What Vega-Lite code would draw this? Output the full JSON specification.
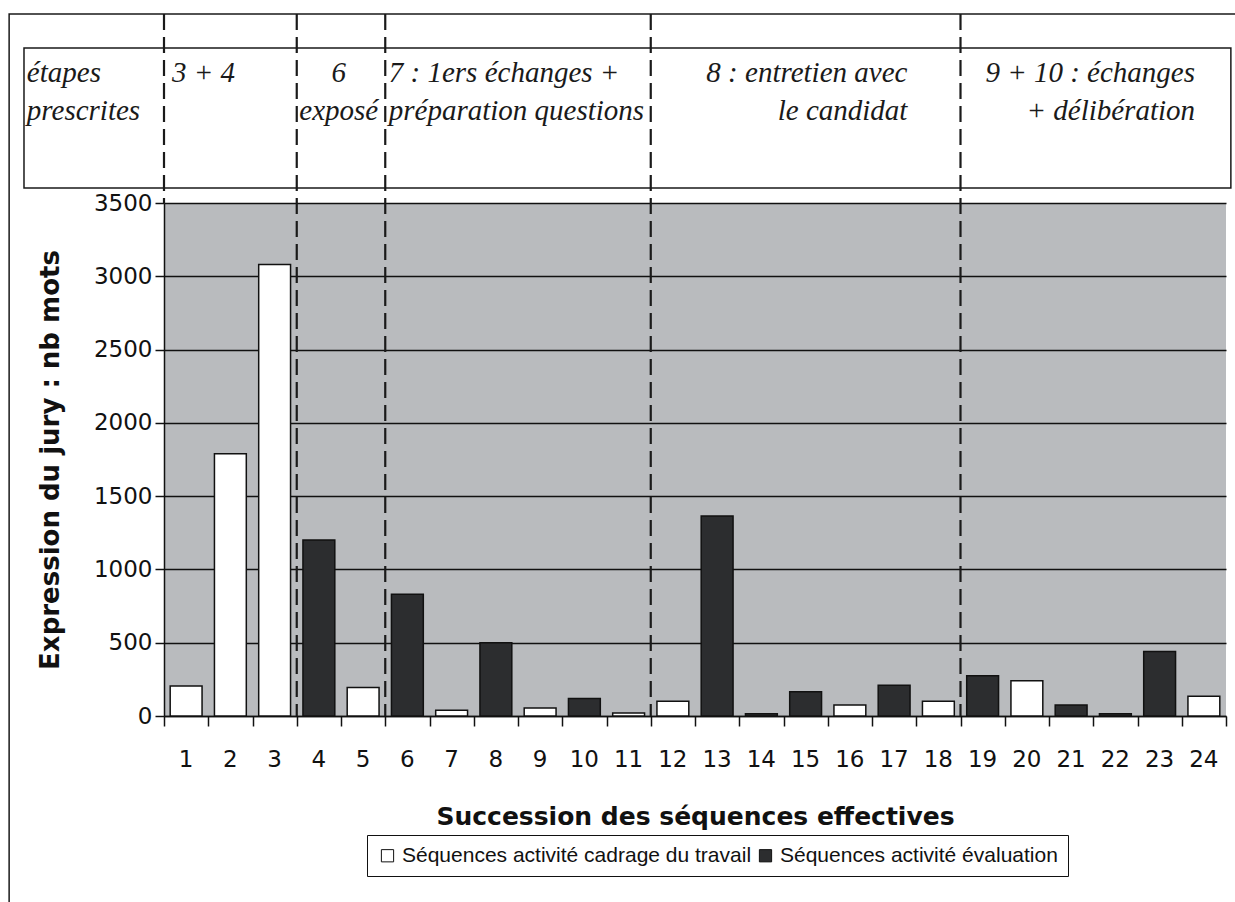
{
  "$schema": "https://vega.github.io/schema/vega-lite/v6.json",
  "width": 1062,
  "height": 513,
  "autosize": {"type": "none"},
  "padding": {"left": 164, "top": 203, "right": 9, "bottom": 186},
  "background": "white",
  "config": {
    "view": {"fill": "#B9BBBE", "stroke": null},
    "font": "DejaVu Sans"
  },
  "datasets": {
    "sequences": [
      {"seq": 1, "mots": 205, "activite": "Séquences activité cadrage du travail"},
      {"seq": 2, "mots": 1790, "activite": "Séquences activité cadrage du travail"},
      {"seq": 3, "mots": 3080, "activite": "Séquences activité cadrage du travail"},
      {"seq": 4, "mots": 1200, "activite": "Séquences activité évaluation"},
      {"seq": 5, "mots": 195, "activite": "Séquences activité cadrage du travail"},
      {"seq": 6, "mots": 830, "activite": "Séquences activité évaluation"},
      {"seq": 7, "mots": 40, "activite": "Séquences activité cadrage du travail"},
      {"seq": 8, "mots": 500, "activite": "Séquences activité évaluation"},
      {"seq": 9, "mots": 55, "activite": "Séquences activité cadrage du travail"},
      {"seq": 10, "mots": 120, "activite": "Séquences activité évaluation"},
      {"seq": 11, "mots": 20, "activite": "Séquences activité cadrage du travail"},
      {"seq": 12, "mots": 100, "activite": "Séquences activité cadrage du travail"},
      {"seq": 13, "mots": 1365, "activite": "Séquences activité évaluation"},
      {"seq": 14, "mots": 15, "activite": "Séquences activité évaluation"},
      {"seq": 15, "mots": 165, "activite": "Séquences activité évaluation"},
      {"seq": 16, "mots": 75, "activite": "Séquences activité cadrage du travail"},
      {"seq": 17, "mots": 210, "activite": "Séquences activité évaluation"},
      {"seq": 18, "mots": 100, "activite": "Séquences activité cadrage du travail"},
      {"seq": 19, "mots": 275, "activite": "Séquences activité évaluation"},
      {"seq": 20, "mots": 240, "activite": "Séquences activité cadrage du travail"},
      {"seq": 21, "mots": 75, "activite": "Séquences activité évaluation"},
      {"seq": 22, "mots": 15, "activite": "Séquences activité évaluation"},
      {"seq": 23, "mots": 440, "activite": "Séquences activité évaluation"},
      {"seq": 24, "mots": 135, "activite": "Séquences activité cadrage du travail"}
    ],
    "frontieres": [
      {"apres_sequence": 3},
      {"apres_sequence": 5},
      {"apres_sequence": 11},
      {"apres_sequence": 18}
    ],
    "etapes": [
      {"etape": "étapes\nprescrites", "ancre": -3.1},
      {"etape": "3 + 4", "ancre": 0.18},
      {"etape": "6\nexposé", "ancre": 3.95},
      {"etape": "7 : 1ers échanges +\npréparation questions", "ancre": 5.08},
      {"etape": "8 : entretien avec\nle candidat", "ancre": 16.8},
      {"etape": "9 + 10 : échanges\n+ délibération", "ancre": 23.3}
    ]
  },
  "layer": [
    {
      "data": {"name": "sequences"},
      "mark": {"type": "bar", "stroke": "#111", "strokeWidth": 1.5},
      "encoding": {
        "x": {
          "field": "seq", "type": "ordinal",
          "scale": {"paddingInner": 0.28, "paddingOuter": 0.14},
          "axis": {
            "title": "Succession des séquences effectives",
            "titleFont": "DejaVu Sans", "titleFontWeight": "bold", "titleFontSize": 25, "titleColor": "#111",
            "titlePadding": 33,
            "labelAngle": 0, "labelFont": "DejaVu Sans", "labelFontSize": 23, "labelColor": "#111",
            "labelPadding": 32,
            "ticks": false, "tickSize": 0,
            "domain": true, "domainColor": "#111", "domainWidth": 1.5,
            "grid": false
          }
        },
        "y": {
          "field": "mots", "type": "quantitative",
          "scale": {"domain": [0, 3500], "nice": false, "zero": false},
          "axis": {
            "title": "Expression du jury : nb mots",
            "titleFont": "DejaVu Sans", "titleFontWeight": "bold", "titleFontSize": 26, "titleColor": "#111",
            "titlePadding": 30,
            "values": [0, 500, 1000, 1500, 2000, 2500, 3000, 3500],
            "format": "d",
            "labelFont": "DejaVu Sans", "labelFontSize": 23, "labelColor": "#111",
            "labelPadding": 3,
            "ticks": true, "tickSize": 9, "tickColor": "#111", "tickWidth": 1.5,
            "domain": true, "domainColor": "#111", "domainWidth": 1.5,
            "grid": true, "gridColor": "#111", "gridWidth": 1.5, "gridOpacity": 1
          }
        },
        "color": {
          "field": "activite", "type": "nominal",
          "scale": {
            "domain": ["Séquences activité cadrage du travail", "Séquences activité évaluation"],
            "range": ["#ffffff", "#2c2d2f"]
          },
          "legend": {
            "orient": "none", "legendX": 203, "legendY": 632,
            "direction": "horizontal", "title": null,
            "strokeColor": "#111", "fillColor": "white", "padding": 10,
            "symbolType": "square", "symbolSize": 150,
            "symbolStrokeColor": "#111", "symbolStrokeWidth": 1,
            "labelFont": "Liberation Sans", "labelFontSize": 21, "labelColor": "#111",
            "labelLimit": 0, "columnPadding": 3, "labelOffset": 4
          }
        }
      }
    },
    {
      "data": {"values": [{}]},
      "mark": {"type": "rect", "fill": "white", "fillOpacity": 0, "stroke": "#1a1a1a", "strokeWidth": 1.5},
      "encoding": {
        "x": {"datum": -3.5, "type": "quantitative", "scale": {"domain": [0, 24], "nice": false, "zero": false}, "axis": null},
        "x2": {"datum": 25},
        "y": {"datum": 4790, "type": "quantitative"},
        "y2": {"datum": -1600}
      }
    },
    {
      "data": {"values": [{}]},
      "mark": {"type": "rect", "fill": "white", "fillOpacity": 0, "stroke": "#1a1a1a", "strokeWidth": 1.5},
      "encoding": {
        "x": {"datum": -3.164, "type": "quantitative", "scale": {"domain": [0, 24], "nice": false, "zero": false}, "axis": null},
        "x2": {"datum": 24.11},
        "y": {"datum": 4558, "type": "quantitative"},
        "y2": {"datum": 3602}
      }
    },
    {
      "data": {"name": "frontieres"},
      "mark": {"type": "rule", "stroke": "#1a1a1a", "strokeWidth": 2.2, "strokeDash": [16, 7]},
      "encoding": {
        "x": {
          "field": "apres_sequence", "type": "quantitative",
          "scale": {"domain": [0, 24], "nice": false, "zero": false},
          "axis": {
            "orient": "bottom", "title": null, "labels": false, "domain": false, "grid": false,
            "values": [0,1,2,3,4,5,6,7,8,9,10,11,12,13,14,15,16,17,18,19,20,21,22,23,24],
            "ticks": true, "tickSize": 10, "tickColor": "#111", "tickWidth": 1.5
          }
        },
        "y": {"datum": 4790, "type": "quantitative"},
        "y2": {"datum": 0}
      }
    },
    {
      "data": {"values": [{}]},
      "mark": {"type": "rule", "stroke": "#1a1a1a", "strokeWidth": 2.2, "strokeDash": [16, 7]},
      "encoding": {
        "x": {"datum": 0, "type": "quantitative", "scale": {"domain": [0, 24], "nice": false, "zero": false}, "axis": null},
        "y": {"datum": 4790, "type": "quantitative"},
        "y2": {"datum": 3500}
      }
    },
    {
      "data": {"name": "etapes"},
      "transform": [{"filter": {"field": "etape", "oneOf": ["étapes\nprescrites", "3 + 4", "7 : 1ers échanges +\npréparation questions"]}}],
      "mark": {"type": "text", "align": "left", "baseline": "alphabetic", "lineBreak": "\n", "lineHeight": 38, "font": "Liberation Serif", "fontStyle": "italic", "fontSize": 29, "color": "#1a1a1a"},
      "encoding": {
        "x": {"field": "ancre", "type": "quantitative", "scale": {"domain": [0, 24], "nice": false, "zero": false}, "axis": null},
        "y": {"datum": 4326, "type": "quantitative"},
        "text": {"field": "etape", "type": "nominal"}
      }
    },
    {
      "data": {"name": "etapes"},
      "transform": [{"filter": {"field": "etape", "oneOf": ["6\nexposé"]}}],
      "mark": {"type": "text", "align": "center", "baseline": "alphabetic", "lineBreak": "\n", "lineHeight": 38, "font": "Liberation Serif", "fontStyle": "italic", "fontSize": 29, "color": "#1a1a1a"},
      "encoding": {
        "x": {"field": "ancre", "type": "quantitative", "scale": {"domain": [0, 24], "nice": false, "zero": false}, "axis": null},
        "y": {"datum": 4326, "type": "quantitative"},
        "text": {"field": "etape", "type": "nominal"}
      }
    },
    {
      "data": {"name": "etapes"},
      "transform": [{"filter": {"field": "etape", "oneOf": ["8 : entretien avec\nle candidat", "9 + 10 : échanges\n+ délibération"]}}],
      "mark": {"type": "text", "align": "right", "baseline": "alphabetic", "lineBreak": "\n", "lineHeight": 38, "font": "Liberation Serif", "fontStyle": "italic", "fontSize": 29, "color": "#1a1a1a"},
      "encoding": {
        "x": {"field": "ancre", "type": "quantitative", "scale": {"domain": [0, 24], "nice": false, "zero": false}, "axis": null},
        "y": {"datum": 4326, "type": "quantitative"},
        "text": {"field": "etape", "type": "nominal"}
      }
    }
  ],
  "resolve": {"scale": {"x": "independent"}, "axis": {"x": "independent"}}
}
